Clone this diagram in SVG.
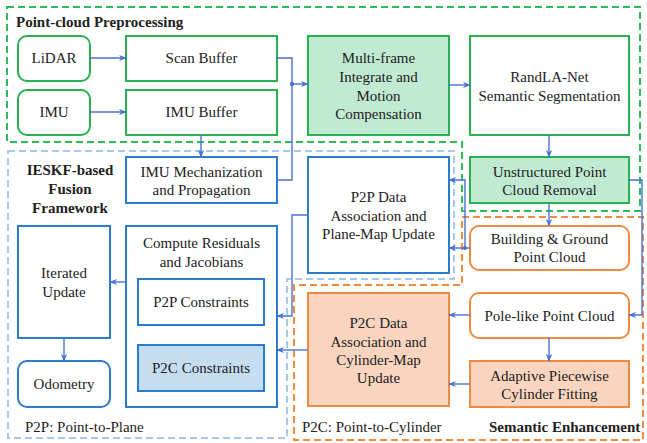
<svg xmlns="http://www.w3.org/2000/svg" width="647" height="443" viewBox="0 0 647 443">
<style>
text{font-family:'Liberation Serif','Times New Roman','DejaVu Serif',serif;font-size:15px;fill:#222;text-anchor:middle}
.b{font-weight:bold}
.l{text-anchor:start}
.g{fill:#fff;stroke:#27b24f;stroke-width:2}
.gf{fill:#c1ead3;stroke:#27b24f;stroke-width:2}
.bl{fill:#fff;stroke:#2a7dcc;stroke-width:2}
.blf{fill:#c5ddf1;stroke:#2a7dcc;stroke-width:2}
.o{fill:#fff;stroke:#f08a3e;stroke-width:2}
.of{fill:#f9d5bf;stroke:#f08a3e;stroke-width:2}
.c{fill:none;stroke:#4a72d6;stroke-width:1.4}
.dg{fill:none;stroke:#2bbd58;stroke-width:2;stroke-dasharray:7 4}
.db{fill:none;stroke:#a9c9ec;stroke-width:2;stroke-dasharray:7 4}
.do{fill:none;stroke:#f08a3e;stroke-width:2;stroke-dasharray:7 4}
</style>
<defs>
<marker id="a" viewBox="0 0 10 10" refX="9" refY="5" markerWidth="8" markerHeight="8" markerUnits="userSpaceOnUse" orient="auto">
<path d="M0,1 L10,5 L0,9 L3,5 Z" fill="#4a72d6"/>
</marker>
</defs>
<rect width="647" height="443" fill="#fff"/>
<g font-family="Liberation Serif, Times New Roman, serif">
<g id="regions">
<path class="dg" d="M7,7 H640 V211 H462 V142 H7 Z"/>
<path class="db" d="M8,151 H454 V279 H287 V438 H8 Z"/>
<path class="do" d="M462,217 H643 V440 H294 V285 H462 Z"/>
<text class="b l" x="16" y="27">Point-cloud Preprocessing</text>
<text class="b" x="70" y="175">IESKF-based</text>
<text class="b" x="70" y="194">Fusion</text>
<text class="b" x="70" y="213">Framework</text>
<text class="l" x="25" y="432">P2P: Point-to-Plane</text>
<text class="l" x="302" y="432">P2C: Point-to-Cylinder</text>
<text class="b l" x="489" y="432">Semantic Enhancement</text>
</g>
<g id="lidar"><rect class="g" x="18" y="36" width="72" height="45" rx="9"/><text x="54" y="63">LiDAR</text></g>
<g id="imu"><rect class="g" x="18" y="90" width="72" height="45" rx="9"/><text x="54" y="117">IMU</text></g>
<g id="scan-buffer"><rect class="g" x="126" y="36" width="151" height="45"/><text x="201.5" y="63">Scan Buffer</text></g>
<g id="imu-buffer"><rect class="g" x="126" y="90" width="151" height="45"/><text x="201.5" y="117">IMU Buffer</text></g>
<g id="multi-frame"><rect class="gf" x="308" y="36" width="141" height="99"/>
<text x="378.5" y="63">Multi-frame</text><text x="378.5" y="82">Integrate and</text><text x="378.5" y="101">Motion</text><text x="378.5" y="119">Compensation</text></g>
<g id="randla"><rect class="g" x="470" y="36" width="159" height="99"/>
<text x="549.5" y="82">RandLA-Net</text><text x="549.5" y="101">Semantic Segmentation</text></g>
<g id="unstructured"><rect class="gf" x="470" y="157" width="159" height="46"/>
<text x="549.5" y="177">Unstructured Point</text><text x="549.5" y="195">Cloud Removal</text></g>
<g id="building"><rect class="o" x="470" y="226" width="159" height="44" rx="9"/>
<text x="549.5" y="244">Building &amp; Ground</text><text x="549.5" y="262">Point Cloud</text></g>
<g id="pole"><rect class="o" x="470" y="293" width="159" height="45" rx="9"/>
<text x="549.5" y="321">Pole-like Point Cloud</text></g>
<g id="adaptive"><rect class="of" x="470" y="361" width="159" height="46"/>
<text x="549.5" y="381">Adaptive Piecewise</text><text x="549.5" y="399">Cylinder Fitting</text></g>
<g id="p2c-data"><rect class="of" x="308" y="293" width="141" height="113"/>
<text x="378.5" y="328">P2C Data</text><text x="378.5" y="347">Association and</text><text x="378.5" y="365">Cylinder-Map</text><text x="378.5" y="383">Update</text></g>
<g id="p2p-data"><rect class="bl" x="308" y="157" width="141" height="116"/>
<text x="378.5" y="202">P2P Data</text><text x="378.5" y="221">Association and</text><text x="378.5" y="239">Plane-Map Update</text></g>
<g id="imu-mech"><rect class="bl" x="126" y="157" width="151" height="46"/>
<text x="201.5" y="177">IMU Mechanization</text><text x="201.5" y="195">and Propagation</text></g>
<g id="compute"><rect class="bl" x="126" y="226" width="151" height="181"/>
<text x="201.5" y="248">Compute Residuals</text><text x="201.5" y="267">and Jacobians</text></g>
<g id="p2p-con"><rect class="bl" x="138" y="279" width="126" height="46"/><text x="201" y="307">P2P Constraints</text></g>
<g id="p2c-con"><rect class="blf" x="138" y="345" width="126" height="46"/><text x="201" y="373">P2C Constraints</text></g>
<g id="iterated"><rect class="bl" x="18" y="226" width="92" height="112"/>
<text x="64" y="278">Iterated</text><text x="64" y="297">Update</text></g>
<g id="odometry"><rect class="bl" x="18" y="361" width="92" height="46" rx="9"/><text x="64" y="389">Odometry</text></g>
</g>
<g id="connectors">
<path class="c" marker-end="url(#a)" d="M90,58 H126"/>
<path class="c" marker-end="url(#a)" d="M90,112 H126"/>
<path class="c" d="M277,58 H292 V180 H277"/>
<circle cx="292" cy="84" r="2.2" fill="#4a72d6"/>
<path class="c" marker-end="url(#a)" d="M292,84 H308"/>
<path class="c" marker-end="url(#a)" d="M201,135 V157"/>
<path class="c" marker-end="url(#a)" d="M449,85 H470"/>
<path class="c" marker-end="url(#a)" d="M549,135 V157"/>
<path class="c" marker-end="url(#a)" d="M549,203 V226"/>
<path class="c" marker-end="url(#a)" d="M629,180 H642 V315 H629"/>
<path class="c" marker-end="url(#a)" d="M470,248 H449"/>
<circle cx="465" cy="248" r="2" fill="#4a72d6"/>
<path class="c" marker-end="url(#a)" d="M465,248 V180 H449"/>
<path class="c" marker-end="url(#a)" d="M308,215 H292 V316 H277"/>
<path class="c" marker-end="url(#a)" d="M308,350 H277"/>
<path class="c" marker-end="url(#a)" d="M126,282 H110"/>
<path class="c" marker-end="url(#a)" d="M64,338 V361"/>
<path class="c" marker-end="url(#a)" d="M470,315 H449"/>
<path class="c" marker-end="url(#a)" d="M549,338 V361"/>
<path class="c" marker-end="url(#a)" d="M470,384 H449"/>
</g>
</svg>
